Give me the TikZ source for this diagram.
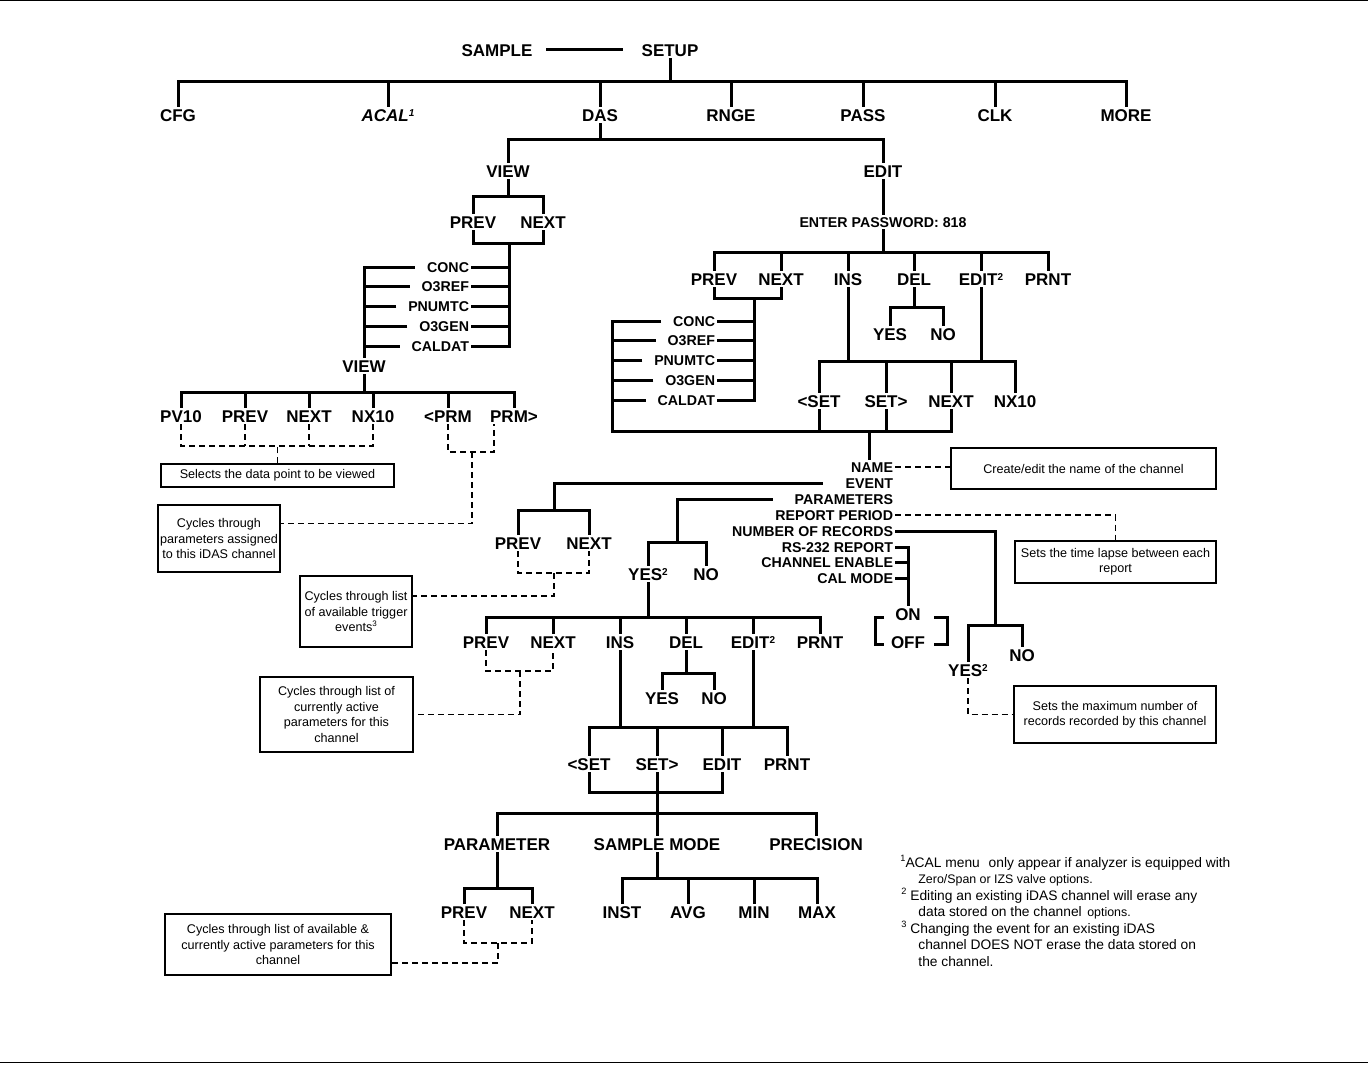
\documentclass[tikz,border=0pt]{standalone}
\usepackage{fontspec}
\setmainfont{Liberation Sans}
\usetikzlibrary{calc}
\newcommand\supn[1]{\raisebox{2.3pt}{\fontsize{5}{5}\selectfont #1}}
\newcommand\fsup[1]{\raisebox{2.6pt}{\fontsize{4.6}{5}\selectfont #1}}
\newcommand\bsup[1]{\raisebox{2.3pt}{\fontsize{4}{4}\selectfont #1}}
\begin{document}
\begin{tikzpicture}[x=0.5pt,y=-0.5pt,
 lbl/.style={font=\bfseries\fontsize{8.5}{10}\selectfont, inner sep=0pt, outer sep=1pt, text height=6.1pt, text depth=0pt},
 sml/.style={font=\bfseries\fontsize{7.1}{8.5}\selectfont, inner sep=0pt, outer sep=1pt, text height=5.1pt, text depth=0pt},
 tl/.style={line width=1.5pt},
 dl/.style={line width=0.7pt, dash pattern=on 3pt off 2pt},
 note/.style={draw, line width=0.6pt, align=center, font=\fontsize{6.3}{7.7}\selectfont, inner sep=0pt},
 foot/.style={font=\fontsize{6.9}{8}\selectfont, inner sep=0pt, anchor=base west}]
\useasboundingbox (0,0) rectangle (1368,1064);
\draw[line width=0.5pt] (0,1) -- (1368,1);
\draw[line width=0.5pt] (0,1062) -- (1368,1062);

% ---------- nodes
\node[lbl] (sample) at (497,50) {SAMPLE};
\node[lbl] (setup) at (670,50) {SETUP};
\node[lbl] (cfg) at (178,115) {CFG};
\node[lbl] (acal) at (388,115) {\itshape ACAL\supn{1}};
\node[lbl] (das) at (600,115) {DAS};
\node[lbl] (rnge) at (731,115) {RNGE};
\node[lbl] (pass) at (863,115) {PASS};
\node[lbl] (clk) at (995,115) {CLK};
\node[lbl] (more) at (1126,115) {MORE};
\node[lbl] (view1) at (508,171) {VIEW};
\node[lbl] (edit1) at (883,171) {EDIT};
\node[lbl] (vprev) at (473,222) {PREV};
\node[lbl] (vnext) at (543,222) {NEXT};
\node[sml,anchor=east] (conc1) at (471,267) {CONC};
\node[sml,anchor=east] (o3ref1) at (471,286) {O3REF};
\node[sml,anchor=east] (pnumtc1) at (471,306) {PNUMTC};
\node[sml,anchor=east] (o3gen1) at (471,326) {O3GEN};
\node[sml,anchor=east] (caldat1) at (471,346) {CALDAT};
\node[lbl] (view2) at (364,366) {VIEW};
\node[lbl] (pv10) at (181,416) {PV10};
\node[lbl] (prev2) at (245,416) {PREV};
\node[lbl] (next2) at (309,416) {NEXT};
\node[lbl] (nx10a) at (373,416) {NX10};
\node[lbl] (lprm) at (448,416) {<PRM};
\node[lbl] (rprm) at (514,416) {PRM>};
\node[note, minimum width=116.5pt, minimum height=11.5pt] (box1) at (277.5,475.5) {Selects the data point to be viewed};
\node[note, minimum width=61pt, minimum height=33.5pt] (box2) at (219,538.5) {Cycles through\\parameters assigned\\to this iDAS channel};

\node[sml] (pw) at (883,222) {ENTER PASSWORD: 818};
\node[lbl] (eprev) at (714,279) {PREV};
\node[lbl] (enext) at (781,279) {NEXT};
\node[lbl] (eins) at (848,279) {INS};
\node[lbl] (edel) at (914,279) {DEL};
\node[lbl] (eedit) at (981,279) {EDIT\supn{2}};
\node[lbl] (eprnt) at (1048,279) {PRNT};
\node[sml,anchor=east] (conc2) at (717,321) {CONC};
\node[sml,anchor=east] (o3ref2) at (717,340) {O3REF};
\node[sml,anchor=east] (pnumtc2) at (717,360) {PNUMTC};
\node[sml,anchor=east] (o3gen2) at (717,380) {O3GEN};
\node[sml,anchor=east] (caldat2) at (717,400) {CALDAT};
\node[lbl] (eyes) at (890,334) {YES};
\node[lbl] (eno) at (943,334) {NO};
\node[lbl] (lset1) at (819,401) {<SET};
\node[lbl] (rset1) at (886,401) {SET>};
\node[lbl] (enext2) at (951,401) {NEXT};
\node[lbl] (enx10) at (1015,401) {NX10};

\node[sml,anchor=east] (pname) at (895,467) {NAME};
\node[sml,anchor=east] (pevent) at (895,483) {EVENT};
\node[sml,anchor=east] (params) at (895,499) {PARAMETERS};
\node[sml,anchor=east] (rperiod) at (895,515) {REPORT PERIOD};
\node[sml,anchor=east] (nrec) at (895,531) {NUMBER OF RECORDS};
\node[sml,anchor=east] (rs232) at (895,547) {RS-232 REPORT};
\node[sml,anchor=east] (chen) at (895,562) {CHANNEL ENABLE};
\node[sml,anchor=east] (calmode) at (895,578) {CAL MODE};
\node[note, minimum width=132.5pt, minimum height=20.5pt] (box3) at (1083.5,468.5) {Create/edit the name of the channel};
\node[note, minimum width=100.5pt, minimum height=21pt] (box4) at (1115.5,562) {Sets the time lapse between each\\report};
\node[note, minimum width=101pt, minimum height=28.5pt] (box5) at (1115,714.5) {Sets the maximum number of\\records recorded by this channel};

\node[lbl] (evprev) at (518,543) {PREV};
\node[lbl] (evnext) at (589,543) {NEXT};
\node[note, minimum width=56pt, minimum height=35.5pt] (box6) at (356,611.5) {Cycles through list\\of available trigger\\events\bsup{3}};
\node[lbl] (pyes) at (648,574) {YES\supn{2}};
\node[lbl] (pno) at (706,574) {NO};
\node[lbl] (nodeon) at (908,614) {ON};
\node[lbl] (nodeoff) at (908,642) {OFF};
\node[lbl] (nyes) at (968,670) {YES\supn{2}};
\node[lbl] (nno) at (1022,655) {NO};

\node[lbl] (pprev) at (486,642) {PREV};
\node[lbl] (pnext) at (553,642) {NEXT};
\node[lbl] (pins) at (620,642) {INS};
\node[lbl] (pdel) at (686,642) {DEL};
\node[lbl] (pedit) at (753,642) {EDIT\supn{2}};
\node[lbl] (pprnt) at (820,642) {PRNT};
\node[note, minimum width=76.5pt, minimum height=37.5pt] (box7) at (336.5,714.5) {Cycles through list of\\currently active\\parameters for this\\channel};
\node[lbl] (pyes2) at (662,698) {YES};
\node[lbl] (pno2) at (714,698) {NO};
\node[lbl] (plset) at (589,764) {<SET};
\node[lbl] (prset) at (657,764) {SET>};
\node[lbl] (pedit2) at (722,764) {EDIT};
\node[lbl] (pprnt2) at (787,764) {PRNT};
\node[lbl] (param) at (497,844) {PARAMETER};
\node[lbl] (smode) at (657,844) {SAMPLE MODE};
\node[lbl] (prec) at (816,844) {PRECISION};
\node[lbl] (paprev) at (464,912) {PREV};
\node[lbl] (panext) at (532,912) {NEXT};
\node[lbl] (inst) at (622,912) {INST};
\node[lbl] (avg) at (688,912) {AVG};
\node[lbl] (minn) at (754,912) {MIN};
\node[lbl] (maxx) at (817,912) {MAX};
\node[note, minimum width=113pt, minimum height=30.5pt] (box8) at (278,944.5) {Cycles through list of available \&\\currently active parameters for this\\channel};

% footnotes
\node[foot] (f1) at (900,867) {\fsup{1}ACAL menu\hspace{2.5pt} only appear if analyzer is equipped with};
\node[foot] (f2) at (918,883.5) {\fontsize{6.2}{8}\selectfont Zero/Span or IZS valve options.};
\node[foot] (f3) at (901,900) {\fsup{2} Editing an existing iDAS channel will erase any};
\node[foot] (f4) at (918,916.5) {data stored on the channel{\fontsize{6.2}{8}\selectfont\hspace{1pt} options.}};
\node[foot] (f5) at (901,933) {\fsup{3} Changing the event for an existing iDAS};
\node[foot] (f6) at (918,949.5) {channel DOES NOT erase the data stored on};
\node[foot] (f7) at (918,966) {the channel.};

% ---------- connectors
\draw[tl] ($(sample.east)+(12,0)$) -- ($(setup.west)+(-17,0)$);
\coordinate (b1) at (670,82);
\draw[tl] (setup.south) -- (b1);
\draw[tl] (cfg.north) |- (b1) -| (more.north);
\foreach \n in {acal,das,rnge,pass,clk} \draw[tl] (\n.north) -- (\n.north |- b1);

\coordinate (b2) at (600,140);
\draw[tl] (das.south) -- (b2);
\draw[tl] (view1.north) |- (b2) -| (edit1.north);

\coordinate (b3) at (508,197);
\draw[tl] (view1.south) -- (b3);
\draw[tl] (vprev.north) |- (b3) -| (vnext.north);

\coordinate (b4) at (509,243);
\draw[tl] (vprev.south) |- (b4) -| (vnext.south);
\draw[tl] (b4) |- (caldat1.east);
\foreach \n in {conc1,o3ref1,pnumtc1,o3gen1} \draw[tl] (\n.east) -- (\n.east -| b4);
\draw[tl] (view2.north) |- ($(conc1.west)+(-10,0)$);
\foreach \n in {o3ref1,pnumtc1,o3gen1,caldat1} \draw[tl] ($(\n.west)+(-10,0)$) -- (\n.west -| view2.north);

\coordinate (b5) at (364,392);
\draw[tl] (view2.south) -- (b5);
\draw[tl] (pv10.north) |- (b5) -| (rprm.north);
\foreach \n in {prev2,next2,nx10a,lprm} \draw[tl] (\n.north) -- (\n.north |- b5);
\coordinate (b6) at (277,446);
\draw[dl] (pv10.south) |- (b6) -| (nx10a.south);
\foreach \n in {prev2,next2} \draw[dl] (\n.south) -- (\n.south |- b6);
\draw[dl] (box1.north) -- (box1.north |- b6);
\coordinate (b7) at (472,452);
\draw[dl] (lprm.south) |- (b7) -| ($(rprm.south)+(-20,0)$);
\draw[dl] (b7) |- ($(box2.east)+(0,-15)$);

\draw[tl] (edit1.south) -- (pw.north);
\coordinate (b8) at (883,252);
\draw[tl] (pw.south) -- (b8);
\draw[tl] (eprev.north) |- (b8) -| (eprnt.north);
\foreach \n in {enext,eins,edel,eedit} \draw[tl] (\n.north) -- (\n.north |- b8);
\coordinate (b9) at (754,298);
\draw[tl] (eprev.south) |- (b9) -| (enext.south);
\draw[tl] (b9) |- (caldat2.east);
\foreach \n in {conc2,o3ref2,pnumtc2,o3gen2} \draw[tl] (\n.east) -- (\n.east -| b9);
\coordinate (c1) at (612,431);
\coordinate (b10) at (869,431);
\draw[tl] ($(conc2.west)+(-10,0)$) -| (c1) -| (enext2.south);
\foreach \n in {o3ref2,pnumtc2,o3gen2,caldat2} \draw[tl] ($(\n.west)+(-10,0)$) -- (\n.west -| c1);
\foreach \n in {lset1,rset1} \draw[tl] (\n.south) -- (\n.south |- c1);
\draw[tl] (b10) -- (b10 |- pname.north);
\coordinate (b11) at (848,361);
\draw[tl] (eins.south) -- (b11);
\draw[tl] (eedit.south) -- (eedit.south |- b11);
\draw[tl] (lset1.north) |- (b11) -| (enx10.north);
\foreach \n in {rset1,enext2} \draw[tl] (\n.north) -- (\n.north |- b11);
\coordinate (b12) at (914,307);
\draw[tl] (edel.south) -- (b12);
\draw[tl] (eyes.north) |- (b12) -| (eno.north);

\draw[dl] (pname.east) -- (pname.east -| box3.west);
\coordinate (b13) at (554,510);
\draw[tl] ($(pevent.west)+(-21,0)$) -| (b13);
\draw[tl] (evprev.north) |- (b13) -| (evnext.north);
\coordinate (b14) at (554,573);
\draw[dl] (evprev.south) |- (b14) -| (evnext.south);
\draw[dl] (b14) |- ($(box6.east)+(0,-15.5)$);
\coordinate (b15) at (677,542);
\draw[tl] ($(params.west)+(-20,0)$) -| (b15);
\draw[tl] (pyes.north) |- (b15) -| (pno.north);
\draw[dl] (rperiod.east) -| (box4.north);
\coordinate (b25) at (995,625);
\draw[tl] (nrec.east) -| (b25);
\draw[tl] (nyes.north) |- (b25) -| (nno.north);
\draw[dl] (nyes.south) |- (box5.west);
\draw[tl] (rs232.east) -| (nodeon.north);
\foreach \n in {chen,calmode} \draw[tl] (\n.east) -- (\n.east -| nodeon.north);
\draw[tl] (884,617) -- (875,617) -- (875,644) -- (884,644);
\draw[tl] (934,617) -- (947,617) -- (947,644) -- (934,644);

\coordinate (b16) at (648,617);
\draw[tl] (pyes.south) -- (b16);
\draw[tl] (pprev.north) |- (b16) -| (pprnt.north);
\foreach \n in {pnext,pins,pdel,pedit} \draw[tl] (\n.north) -- (\n.north |- b16);
\coordinate (b17) at (520,671);
\draw[dl] (pprev.south) |- (b17) -| (pnext.south);
\draw[dl] (b17) |- (box7.east);
\coordinate (b18) at (620,727);
\draw[tl] (pins.south) -- (b18);
\draw[tl] (pedit.south) -- (pedit.south |- b18);
\draw[tl] (plset.north) |- (b18) -| (pprnt2.north);
\foreach \n in {prset,pedit2} \draw[tl] (\n.north) -- (\n.north |- b18);
\coordinate (b19) at (686,673);
\draw[tl] (pdel.south) -- (b19);
\draw[tl] (pyes2.north) |- (b19) -| (pno2.north);
\coordinate (b20) at (657,792);
\draw[tl] (plset.south) |- (b20) -| (pedit2.south);
\draw[tl] (prset.south) -- (smode.north);
\coordinate (b21) at (657,813);
\draw[tl] (param.north) |- (b21) -| (prec.north);
\coordinate (b22) at (497,888);
\draw[tl] (param.south) -- (b22);
\draw[tl] (paprev.north) |- (b22) -| (panext.north);
\coordinate (b23) at (498,943);
\draw[dl] (paprev.south) |- (b23) -| (panext.south);
\draw[dl] (b23) |- ($(box8.east)+(0,18.5)$);
\coordinate (b24) at (657,878);
\draw[tl] (smode.south) -- (b24);
\draw[tl] (inst.north) |- (b24) -| (maxx.north);
\foreach \n in {avg,minn} \draw[tl] (\n.north) -- (\n.north |- b24);
\end{tikzpicture}
\end{document}
